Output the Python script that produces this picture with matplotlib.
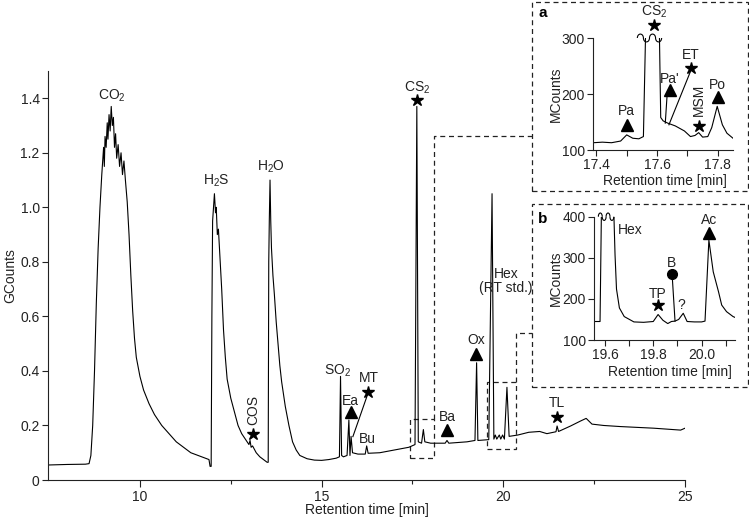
import matplotlib
matplotlib.use("Agg")
import matplotlib.pyplot as plt
from matplotlib.patches import Rectangle, Arc
from matplotlib.ticker import FixedLocator

plt.rcParams["font.family"] = ["Liberation Sans", "DejaVu Sans"]
plt.rcParams["font.size"] = 10
plt.rcParams["mathtext.fontset"] = "custom"
plt.rcParams["mathtext.rm"] = "Liberation Sans"
plt.rcParams["mathtext.default"] = "regular"

# main chromatogram (min, GCounts)
main_t = [7.47, 8.0, 8.5, 8.6, 8.65, 8.7, 8.75, 8.8, 8.85, 8.9, 8.95, 9.0, 9.02, 9.04,
          9.07, 9.1, 9.12, 9.15, 9.18, 9.21, 9.24, 9.27, 9.3, 9.33, 9.36, 9.4, 9.44,
          9.48, 9.52, 9.56, 9.6, 9.65, 9.7, 9.75, 9.8, 9.85, 9.9, 10.0, 10.1, 10.25,
          10.4, 10.6, 10.8, 11.0, 11.2, 11.4, 11.6, 11.8, 11.9, 11.93, 11.96, 11.98,
          12.0, 12.05, 12.08, 12.1, 12.13, 12.16, 12.2, 12.25, 12.3, 12.35, 12.4, 12.5,
          12.6, 12.7, 12.8, 12.9, 13.0, 13.03, 13.06, 13.1, 13.2, 13.3, 13.4, 13.5,
          13.53, 13.545, 13.56, 13.58, 13.6, 13.62, 13.66, 13.7, 13.75, 13.8, 13.85,
          13.9, 14.0, 14.1, 14.2, 14.3, 14.4, 14.6, 14.8, 15.0, 15.2, 15.4, 15.49,
          15.52, 15.55, 15.6, 15.7, 15.75, 15.78, 15.81, 15.85, 16.0, 16.2, 16.24,
          16.28, 16.6, 17.0, 17.4, 17.57, 17.62, 17.66, 17.75, 17.8, 17.84, 18.0,
          18.4, 18.45, 18.5, 19.0, 19.22, 19.265, 19.3, 19.6, 19.69, 19.74, 19.78,
          19.82, 19.89, 19.93, 19.98, 20.03, 20.1, 20.16, 20.4, 20.7, 21.0, 21.2,
          21.45, 21.48, 21.52, 21.85, 22.12, 22.28, 22.44, 22.76, 23.22, 24.14,
          24.88, 25.0]
main_v = [0.055, 0.057, 0.058, 0.06, 0.09, 0.2, 0.4, 0.65, 0.85, 1.0, 1.12, 1.22, 1.15,
          1.26, 1.22, 1.31, 1.25, 1.34, 1.28, 1.37, 1.3, 1.33, 1.22, 1.27, 1.18, 1.23,
          1.15, 1.2, 1.12, 1.17, 1.1, 1.02, 0.9, 0.75, 0.62, 0.52, 0.45, 0.38, 0.33,
          0.28, 0.24, 0.2, 0.17, 0.14, 0.12, 0.1, 0.09, 0.08, 0.075, 0.05, 0.05, 0.6,
          0.95, 1.05, 0.98, 1.0, 0.9, 0.92, 0.82, 0.7, 0.55, 0.45, 0.37, 0.3, 0.25,
          0.2, 0.17, 0.15, 0.13, 0.145, 0.12, 0.125, 0.1, 0.085, 0.075, 0.065, 0.065,
          0.8, 0.95, 1.1, 0.95, 0.85, 0.75, 0.68, 0.58, 0.5, 0.42, 0.36, 0.27, 0.2,
          0.14, 0.11, 0.09, 0.078, 0.073, 0.072, 0.075, 0.08, 0.085, 0.38, 0.09,
          0.085, 0.09, 0.22, 0.09, 0.16, 0.1, 0.095, 0.095, 0.125, 0.098, 0.1, 0.11,
          0.12, 0.13, 1.37, 0.14, 0.135, 0.185, 0.14, 0.135, 0.135, 0.145, 0.135,
          0.14, 0.145, 0.43, 0.145, 0.148, 1.05, 0.15, 0.165, 0.15, 0.165, 0.15,
          0.165, 0.15, 0.34, 0.16, 0.165, 0.175, 0.178, 0.17, 0.177, 0.198, 0.178,
          0.198, 0.216, 0.226, 0.205, 0.2, 0.196, 0.19, 0.183, 0.19]

# inset a: 17.4-17.85 min (MCounts)
a_t = [17.39, 17.42, 17.45, 17.48, 17.5, 17.52, 17.54, 17.555, 17.563, 17.607, 17.612,
       17.62, 17.635, 17.66, 17.69, 17.71, 17.725, 17.737, 17.75, 17.767, 17.78,
       17.798, 17.815, 17.83, 17.85]
a_v = [113, 114, 113, 116, 127, 121, 120, 124, 330, 330, 158, 152, 148, 143, 134, 124,
       126, 131, 123, 124, 140, 178, 145, 130, 121]

# inset b: 19.55-20.14 min (MCounts)
b_t = [19.555, 19.58, 19.586, 19.636, 19.642, 19.648, 19.66, 19.68, 19.72, 19.76, 19.8,
       19.82, 19.84, 19.86, 19.875, 19.89, 19.905, 19.924, 19.94, 19.97, 20.0, 20.014,
       20.03, 20.048, 20.07, 20.083, 20.103, 20.13, 20.138]
b_v = [145, 145, 430, 430, 307, 224, 178, 157, 144, 143, 145, 162, 148, 140, 145, 146,
       150, 165, 145, 144, 144, 146, 343, 266, 217, 185, 169, 157, 155]

W, H = 749, 524
ink = "#222222"
fig = plt.figure(figsize=(W / 100, H / 100), dpi=100)


def px_ax(x0, x1, y_top, y_bot):
    return fig.add_axes([x0 / W, (H - y_bot) / H, (x1 - x0) / W, (y_bot - y_top) / H])


def style(ax):
    for s in ["top", "right"]:
        ax.spines[s].set_visible(False)
    for s in ["left", "bottom"]:
        ax.spines[s].set_linewidth(0.8)
        ax.spines[s].set_color(ink)
    ax.tick_params(which="both", direction="out", color=ink, labelcolor=ink, width=0.8)
    ax.tick_params(which="major", length=4, pad=2)


def tag(ax, x, y, txt, marker=None, my=None, ms=9, rot=0, **kw):
    ax.text(x, y, txt, ha="center", va="center", color=ink, rotation=rot,
            clip_on=False, **kw)
    if marker:
        ax.plot([x], [my], marker=marker, ms=ms, color="black", ls="none", clip_on=False)


dash = (0, (4, 3))

# ---- main axes
ax = px_ax(48, 685, 71, 480)
style(ax)
ax.plot(main_t, main_v, color="black", lw=0.8)
ax.set_xlim(7.47, 25)
ax.set_ylim(0, 1.5)
ax.xaxis.set_major_locator(FixedLocator([10, 15, 20, 25]))
ax.xaxis.set_minor_locator(FixedLocator([12.5, 17.5, 22.5]))
ax.tick_params(axis="x", which="major", length=5)
ax.tick_params(axis="x", which="minor", length=3)
ax.set_yticks([0, 0.2, 0.4, 0.6, 0.8, 1.0, 1.2, 1.4])
ax.set_yticklabels(["0", "0.2", "0.4", "0.6", "0.8", "1.0", "1.2", "1.4"])
ax.set_xlabel("Retention time [min]", color=ink)
ax.xaxis.set_label_coords(0.5, -0.056)
ax.set_ylabel("GCounts", color=ink)
ax.yaxis.set_label_coords(-0.048, 0.5)

tag(ax, 9.23, 1.41, r"CO$_2$")
tag(ax, 12.09, 1.097, r"H$_2$S")
tag(ax, 13.61, 1.149, r"H$_2$O")
tag(ax, 13.12, 0.255, "COS", "*", 0.168, rot=90)
tag(ax, 15.44, 0.401, r"SO$_2$")
tag(ax, 15.80, 0.289, "Ea", "^", 0.25, ms=8)
tag(ax, 16.29, 0.373, "MT", "*", 0.322)
ax.plot([16.245, 15.86], [0.306, 0.159], color="black", lw=0.8)
tag(ax, 16.27, 0.149, "Bu")
tag(ax, 17.62, 1.437, r"CS$_2$", "*", 1.394)
tag(ax, 18.45, 0.23, "Ba", "^", 0.183, ms=8)
tag(ax, 19.26, 0.514, "Ox", "^", 0.461, ms=8)
tag(ax, 20.08, 0.73, "Hex\n(RT std.)", linespacing=1.0)
tag(ax, 21.48, 0.281, "TL", "*", 0.232)

# zoom boxes and connectors
ax.add_patch(Rectangle((17.42, 0.082), 0.66, 0.142, fill=False, ls=dash, lw=0.9, ec=ink))
ax.add_patch(Rectangle((19.55, 0.114), 0.81, 0.244, fill=False, ls=dash, lw=0.9, ec=ink))
ax.plot([18.08, 18.08, 20.80], [0.224, 1.262, 1.262], ls=dash, lw=0.9, color=ink, clip_on=False)
ax.plot([20.36, 20.36, 20.80], [0.358, 0.539, 0.539], ls=dash, lw=0.9, color=ink, clip_on=False)

# inset frames
for y0, y1 in [(2, 191), (204, 387)]:
    fig.add_artist(Rectangle((532 / W, (H - y1) / H), 216 / W, (y1 - y0) / H,
                             transform=fig.transFigure, fill=False, ls=dash, lw=0.9, ec=ink))
fig.text(542.7 / W, 1 - 13.3 / H, "a", weight="bold", fontsize=11, ha="center", va="center")
fig.text(542.7 / W, 1 - 219.3 / H, "b", weight="bold", fontsize=11, ha="center", va="center")

# ---- inset a
axa = px_ax(593.3, 733, 38, 150)
style(axa)
axa.plot(a_t, a_v, color="black", lw=0.8)
axa.set_xlim(17.39, 17.85)
axa.set_ylim(100, 300)
axa.set_yticks([100, 200, 300])
axa.xaxis.set_major_locator(FixedLocator([17.4, 17.6, 17.8]))
axa.xaxis.set_minor_locator(FixedLocator([17.5, 17.7]))
axa.tick_params(axis="x", which="minor", length=4)
axa.set_xticklabels(["17.4", "17.6", "17.8"])
axa.set_xlabel("Retention time [min]", color=ink)
axa.xaxis.set_label_coords(0.513, -0.215)
axa.set_ylabel("MCounts", color=ink)
axa.yaxis.set_label_coords(-0.22, 0.5)
for i, xc in enumerate([17.545, 17.565, 17.585, 17.605]):
    axa.add_patch(Arc((xc, 300), 0.02, 14, theta1=0 if i % 2 == 0 else 180,
                      theta2=180 if i % 2 == 0 else 360, lw=0.8, color="black", clip_on=False))
tag(axa, 17.59, 346, r"CS$_2$", "*", 323)
tag(axa, 17.50, 170, "Pa", "^", 144.6, ms=8)
tag(axa, 17.641, 226, "Pa'", "^", 207, ms=8)
axa.plot([17.633, 17.627], [198, 148], color="black", lw=0.8)
tag(axa, 17.711, 270, "ET", "*", 246)
axa.plot([17.709, 17.639], [239, 145], color="black", lw=0.8)
tag(axa, 17.737, 190, "MSM", "*", 142, rot=90)
tag(axa, 17.80, 215.7, "Po", "^", 195, ms=8)

# ---- inset b
axb = px_ax(594, 735, 216.7, 340)
style(axb)
axb.plot(b_t, b_v, color="black", lw=0.8)
axb.set_xlim(19.555, 20.138)
axb.set_ylim(100, 400)
axb.set_yticks([100, 200, 300, 400])
axb.xaxis.set_major_locator(FixedLocator([19.6, 19.8, 20.0]))
axb.xaxis.set_minor_locator(FixedLocator([19.7, 19.9, 20.1]))
axb.tick_params(axis="x", which="minor", length=4)
axb.set_xticklabels(["19.6", "19.8", "20.0"])
axb.set_xlabel("Retention time [min]", color=ink)
axb.xaxis.set_label_coords(0.539, -0.2)
axb.set_ylabel("MCounts", color=ink)
axb.yaxis.set_label_coords(-0.22, 0.5)
for i, xc in enumerate([19.581, 19.597, 19.613, 19.629]):
    axb.add_patch(Arc((xc, 400), 0.016, 18, theta1=0 if i % 2 == 0 else 180,
                      theta2=180 if i % 2 == 0 else 360, lw=0.8, color="black", clip_on=False))
tag(axb, 19.703, 367, "Hex")
tag(axb, 19.82, 211, "TP", "*", 185)
tag(axb, 19.876, 288, "B", "o", 260, ms=7)
axb.plot([19.879, 19.89], [250, 146], color="black", lw=0.8)
tag(axb, 19.917, 185, "?")
tag(axb, 20.03, 392, "Ac", "^", 360, ms=8)

fig.savefig("out.png", dpi=100)
